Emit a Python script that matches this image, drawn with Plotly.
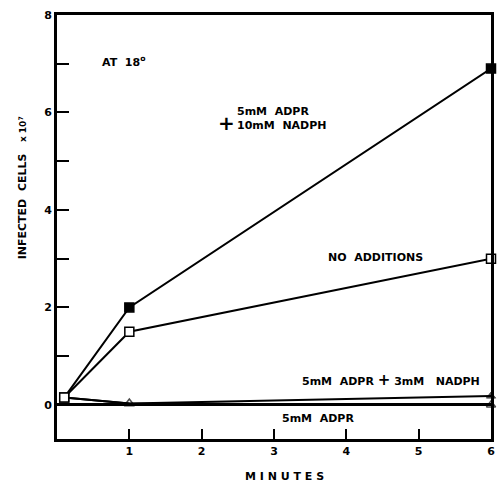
import plotly.graph_objects as go

# Data (minutes vs infected cells x10^7)
x_vals = [0.1, 1, 6]
nadph10 = [0.15, 2.0, 6.9]      # 5mM ADPR + 10mM NADPH (filled squares)
no_add = [0.15, 1.5, 3.0]       # No additions (open squares)
nadph3 = [0.15, 0.03, 0.18]     # 5mM ADPR + 3mM NADPH (filled triangles)
adpr = [0.15, 0.03, 0.0]        # 5mM ADPR (open triangles)

y_tickvals = [0, 2, 4, 6, 8]
y_ticktext = ["0", "2", "4", "6", "8"]
x_tickvals = [1, 2, 3, 4, 5, 6]
x_ticktext = ["1", "2", "3", "4", "5", "6"]

FONT = "DejaVu Sans"
fig = go.Figure()

fig.add_trace(go.Scatter(
    x=x_vals, y=adpr, mode="lines+markers", cliponaxis=False,
    line=dict(color="black", width=2),
    marker=dict(symbol=["circle", "triangle-up-open", "triangle-up-open"],
                size=[0, 9, 8], color="black", line=dict(width=1.5, color="black")),
    showlegend=False))
fig.add_trace(go.Scatter(
    x=x_vals, y=nadph3, mode="lines+markers", cliponaxis=False,
    line=dict(color="black", width=2),
    marker=dict(symbol=["circle", "circle", "triangle-up"],
                size=[0, 0, 8], color="black", line=dict(width=1, color="black")),
    showlegend=False))
fig.add_trace(go.Scatter(
    x=x_vals, y=nadph10, mode="lines+markers", cliponaxis=False,
    line=dict(color="black", width=2),
    marker=dict(symbol="square", size=9, color="black", line=dict(width=1.5, color="black")),
    showlegend=False))
fig.add_trace(go.Scatter(
    x=x_vals, y=no_add, mode="lines+markers", cliponaxis=False,
    line=dict(color="black", width=2),
    marker=dict(symbol="square", size=9, color="white", line=dict(width=1.5, color="black")),
    showlegend=False))

tf = dict(family=FONT, size=11, color="black", weight="bold")
ann = [
    dict(x=0.6, y=7.04, text="AT  18<sup>o</sup>", xanchor="left", yanchor="middle", font=tf),
    dict(x=2.46, y=5.88, text="5mM  ADPR<br>10mM  NADPH", xanchor="left", yanchor="middle",
         align="left", font=tf),
    dict(x=2.34, y=5.78, text="+", xanchor="center", yanchor="middle",
         font=dict(family=FONT, size=20, color="black", weight="bold")),
    dict(x=4.41, y=3.02, text="NO  ADDITIONS", xanchor="center", yanchor="middle", font=tf),
    dict(x=4.62, y=0.52, text="5mM  ADPR <b style='font-size:15px'>+</b> 3mM   NADPH",
         xanchor="center", yanchor="middle", font=tf),
    dict(x=3.61, y=-0.27, text="5mM  ADPR", xanchor="center", yanchor="middle", font=tf),
    dict(x=(287 - 57) / 438, y=(439 - 477) / 424, xref="paper", yref="paper",
         text="M I N U T E S", xanchor="center", yanchor="middle", font=tf),
    dict(x=(22 - 57) / 438, y=(439 - 188) / 424, xref="paper", yref="paper",
         text="INFECTED  CELLS   <span style='font-size:9px'>x 10<sup>7</sup></span>",
         textangle=-90, xanchor="center", yanchor="middle", font=tf),
]
for a in ann:
    a.setdefault("showarrow", False)
    a.setdefault("xref", "x")
    a.setdefault("yref", "y")

fig.update_layout(
    width=500, height=483,
    margin=dict(l=57, r=5, t=15, b=44),
    paper_bgcolor="white", plot_bgcolor="white",
    annotations=ann,
    xaxis=dict(range=[0, 6], tickvals=x_tickvals, ticktext=x_ticktext,
               ticks="inside", ticklen=10, tickwidth=2, tickcolor="black",
               showline=True, linewidth=3, linecolor="black", mirror=True,
               showgrid=False, zeroline=False,
               tickfont=dict(family=FONT, size=11, color="black", weight="bold")),
    yaxis=dict(range=[-0.7, 8], tickvals=y_tickvals, ticktext=y_ticktext,
               ticks="inside", ticklen=12, tickwidth=2, tickcolor="black",
               minor=dict(ticks="inside", ticklen=12, tickwidth=2, tickcolor="black",
                          tick0=0, dtick=1, showgrid=False),
               showline=True, linewidth=3, linecolor="black", mirror=True,
               showgrid=False, zeroline=True, zerolinewidth=3, zerolinecolor="black",
               tickfont=dict(family=FONT, size=11, color="black", weight="bold")),
)

fig.write_html("out.html")
